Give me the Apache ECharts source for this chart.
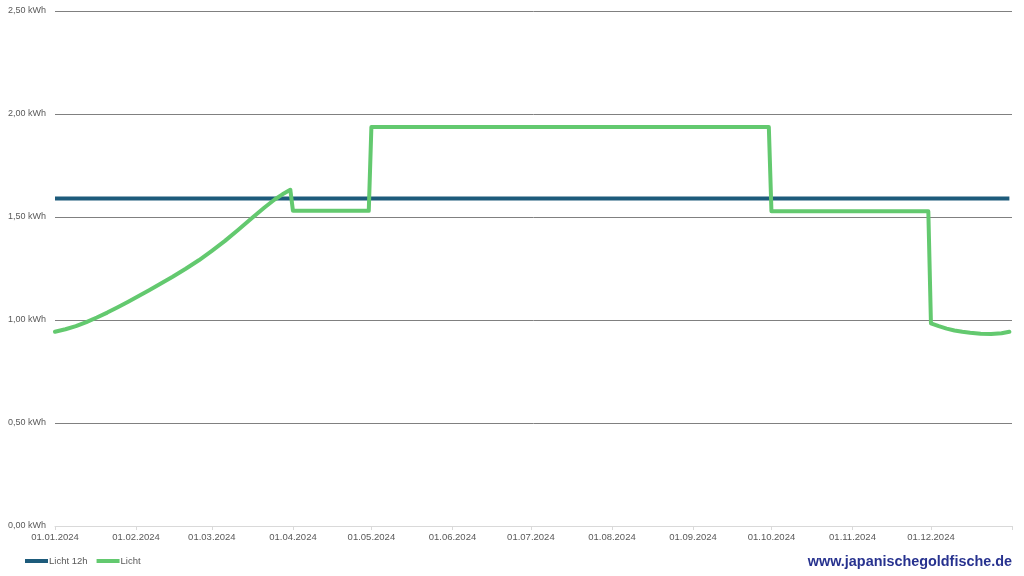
<!DOCTYPE html>
<html>
<head>
<meta charset="utf-8">
<script src="https://cdn.jsdelivr.net/npm/echarts@6/dist/echarts.min.js"></script>
<style>
  html, body { margin: 0; padding: 0; background: #fff; }
  #chart { width: 1024px; height: 576px; }
</style>
</head>
<body>
<div id="chart"></div>
<script>
// Monatsanfaenge fuer die Achsenbeschriftung
const monthStarts = [
  '2024-01-01', '2024-02-01', '2024-03-01', '2024-04-01', '2024-05-01', '2024-06-01',
  '2024-07-01', '2024-08-01', '2024-09-01', '2024-10-01', '2024-11-01', '2024-12-01'
];
const tickDates = monthStarts.concat(['2025-01-01']);

// Licht 12h (konstant)
const licht12hDates = ['2024-01-01', '2024-12-31'];
const licht12hValues = [1.59, 1.59];

// Licht
const lichtDates = [
  '2024-01-01', '2024-01-05', '2024-01-09', '2024-01-13', '2024-01-17', '2024-01-21',
  '2024-01-25', '2024-01-29', '2024-02-02', '2024-02-06', '2024-02-10', '2024-02-15',
  '2024-02-20', '2024-02-25', '2024-03-01', '2024-03-06', '2024-03-11', '2024-03-16',
  '2024-03-21', '2024-03-25', '2024-03-28', '2024-03-31',
  '2024-04-01', '2024-04-30', '2024-05-01', '2024-09-30', '2024-10-01', '2024-11-30',
  '2024-12-01', '2024-12-04', '2024-12-07', '2024-12-10', '2024-12-13', '2024-12-16',
  '2024-12-20', '2024-12-24', '2024-12-28', '2024-12-31'
];
const lichtValues = [
  0.943, 0.955, 0.970, 0.990, 1.012, 1.036,
  1.062, 1.089, 1.117, 1.145, 1.174, 1.210,
  1.249, 1.290, 1.336, 1.384, 1.437, 1.492,
  1.545, 1.585, 1.610, 1.632,
  1.53, 1.53, 1.937, 1.937, 1.528, 1.528,
  0.984, 0.970, 0.958, 0.949, 0.943, 0.938,
  0.933, 0.932, 0.936, 0.943
];

// Tage seit 01.01.2024
const DAY = 86400000;
const base = Date.UTC(2024, 0, 1);
function toDay(s) {
  const p = s.split('-');
  return Math.round((Date.UTC(+p[0], +p[1] - 1, +p[2]) - base) / DAY);
}
function pad(n) { return n < 10 ? '0' + n : '' + n; }
function fmtDay(v) {
  const d = new Date(base + Math.round(v) * DAY);
  return pad(d.getUTCDate()) + '.' + pad(d.getUTCMonth() + 1) + '.' + d.getUTCFullYear();
}

const chart = echarts.init(document.getElementById('chart'), null, { renderer: 'canvas' });

const option = {
  animation: false,
  backgroundColor: '#ffffff',
  textStyle: { fontFamily: 'Liberation Sans, Arial, sans-serif' },
  grid: { left: 55, right: 12, top: 11, bottom: 50, containLabel: false },
  legend: {
    left: 20,
    top: 551,
    icon: 'rect',
    itemWidth: 23,
    itemHeight: 4,
    itemGap: 9,
    textStyle: { fontSize: 9.5, color: '#595959', padding: [0, 0, 0, -4] },
    data: ['Licht 12h', 'Licht']
  },
  xAxis: {
    type: 'value',
    min: 0,
    max: toDay('2025-01-01'),
    axisLine: { show: true, lineStyle: { color: '#d9d9d9', width: 1 } },
    axisTick: {
      show: true,
      length: 4,
      lineStyle: { color: '#d9d9d9' },
      customValues: tickDates.map(toDay)
    },
    axisLabel: {
      fontSize: 9.5,
      color: '#595959',
      margin: 6,
      showMinLabel: true,
      showMaxLabel: true,
      customValues: monthStarts.map(toDay),
      formatter: fmtDay
    },
    splitLine: { show: false }
  },
  yAxis: {
    type: 'value',
    min: 0,
    max: 2.5,
    interval: 0.5,
    axisLine: { show: false },
    axisTick: { show: false },
    axisLabel: {
      fontSize: 9,
      color: '#595959',
      margin: 9,
      formatter: function (v) { return v.toFixed(2).replace('.', ',') + ' kWh'; }
    },
    splitLine: {
      lineStyle: {
        color: ['#d9d9d9', '#808080', '#808080', '#808080', '#808080', '#808080'],
        width: 1
      }
    }
  },
  series: [
    {
      name: 'Licht 12h',
      type: 'line',
      showSymbol: false,
      color: '#1d5b7b',
      lineStyle: { width: 4, color: '#1d5b7b', cap: 'butt' },
      data: licht12hDates.map((d, i) => [toDay(d), licht12hValues[i]]),
      z: 2
    },
    {
      name: 'Licht',
      type: 'line',
      showSymbol: false,
      color: '#63c96f',
      lineStyle: { width: 4, color: '#63c96f', join: 'round', cap: 'round' },
      data: lichtDates.map((d, i) => [toDay(d), lichtValues[i]]),
      z: 3
    }
  ],
  graphic: [
    {
      type: 'text',
      right: 12,
      top: 555,
      style: {
        text: 'www.japanischegoldfische.de',
        fontSize: 14.4,
        fontWeight: 'bold',
        fontFamily: 'Liberation Sans, Arial, sans-serif',
        fill: '#27328f'
      }
    }
  ]
};

chart.setOption(option);
</script>
</body>
</html>
